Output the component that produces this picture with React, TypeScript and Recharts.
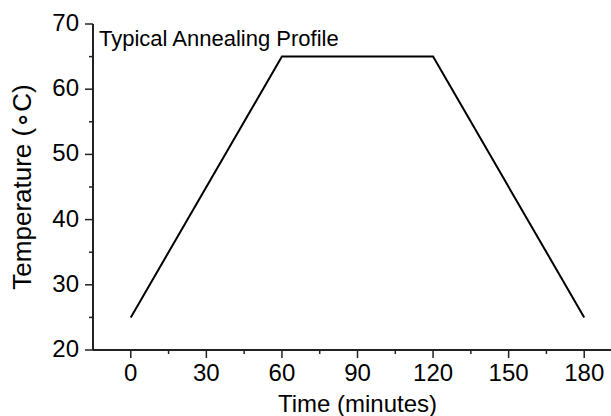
import { LineChart, Line, XAxis, YAxis, Label } from 'recharts'

const times = [0, 60, 120, 180]
const temps = [25, 65, 65, 25]
const xTicks = [0, 15, 30, 45, 60, 75, 90, 105, 120, 135, 150, 165, 180]
const yTicks = [20, 25, 30, 35, 40, 45, 50, 55, 60, 65, 70]

const FONT = '"Liberation Sans", Arial, sans-serif'
const AXIS = '#222'

const data = times.map((t, i) => ({ time: t, temp: temps[i] }))

// major ticks carry labels, minor ones are just short marks
const XTick = ({ x, y, payload }: any) => {
  const major = payload.value % 30 === 0
  return (
    <g>
      <line x1={x} x2={x} y1={y} y2={y + (major ? 8 : 4)} stroke={AXIS} strokeWidth={1.5} />
      {major && (
        <text x={x} y={y + 31} textAnchor="middle" fontSize={24} fontFamily={FONT} fill="#000">
          {payload.value}
        </text>
      )}
    </g>
  )
}

const YTick = ({ x, y, payload }: any) => {
  const major = payload.value % 10 === 0
  return (
    <g>
      <line x1={x - (major ? 8 : 4)} x2={x} y1={y} y2={y} stroke={AXIS} strokeWidth={1.5} />
      {major && (
        <text x={x - 14} y={y + 7} textAnchor="end" fontSize={24} fontFamily={FONT} fill="#000">
          {payload.value}
        </text>
      )}
    </g>
  )
}

export default function App() {
  return (
    <div style={{ position: 'fixed', left: 0, top: 0, width: 611, height: 416, overflow: 'hidden', background: '#fff' }}>
      <LineChart width={640} height={416} data={data} margin={{ top: 24, right: 18, bottom: 0, left: 0 }}>
        <XAxis
          dataKey="time"
          type="number"
          domain={[-15, 195]}
          ticks={xTicks}
          interval={0}
          height={66}
          tickSize={0}
          tickMargin={0}
          tickLine={false}
          tick={<XTick />}
          axisLine={{ stroke: AXIS, strokeWidth: 2 }}
        >
          <Label
            content={({ viewBox }: any) => (
              <text
                x={viewBox.x + viewBox.width / 2}
                y={viewBox.y + 62}
                textAnchor="middle"
                fontSize={24}
                fontFamily={FONT}
                fill="#000"
              >
                Time (minutes)
              </text>
            )}
          />
        </XAxis>
        <XAxis
          xAxisId="top"
          orientation="top"
          type="number"
          domain={[-15, 195]}
          height={0}
          tick={false}
          tickLine={false}
          axisLine={{ stroke: AXIS, strokeWidth: 2 }}
        />
        <YAxis
          type="number"
          domain={[20, 70]}
          ticks={yTicks}
          interval={0}
          width={93}
          tickSize={0}
          tickMargin={0}
          tickLine={false}
          tick={<YTick />}
          axisLine={{ stroke: AXIS, strokeWidth: 2 }}
        >
          <Label
            content={({ viewBox }: any) => (
              <text
                transform={`translate(31, ${viewBox.y + viewBox.height / 2}) rotate(-90)`}
                textAnchor="middle"
                fontSize={26}
                fontFamily={FONT}
                fill="#000"
              >
                Temperature (∘C)
              </text>
            )}
          />
        </YAxis>
        <Line
          dataKey="temp"
          type="linear"
          stroke="#000"
          strokeWidth={2}
          dot={false}
          isAnimationActive={false}
        />
        <text x={99} y={46} fontSize={22} fontFamily={FONT} fill="#000">
          Typical Annealing Profile
        </text>
      </LineChart>
    </div>
  )
}
